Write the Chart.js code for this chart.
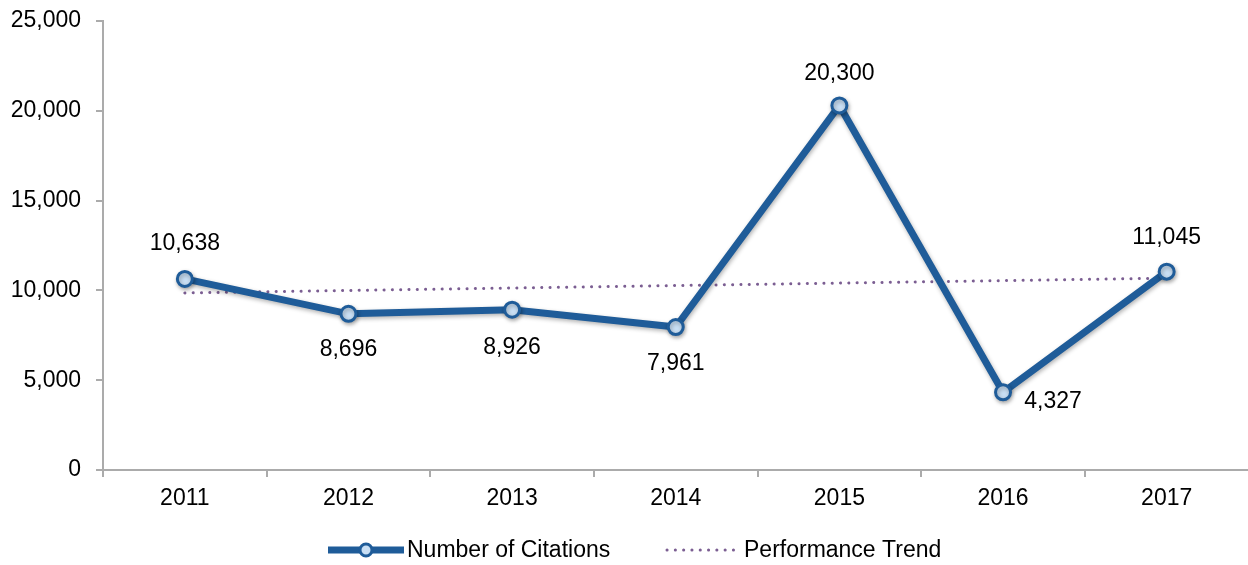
<!DOCTYPE html>
<html><head><meta charset="utf-8">
<script src="https://cdn.jsdelivr.net/npm/chart.js@4/dist/chart.umd.min.js"></script>
<style>html,body{margin:0;padding:0;background:#fff;overflow:hidden}#wrap{width:1248px;height:565px;position:relative;overflow:hidden}canvas{display:block}</style>
</head><body><div id="wrap"><canvas id="c" width="1259" height="565"></canvas></div>
<script>
const categories = ['2011','2012','2013','2014','2015','2016','2017'];
const citations = [10638, 8696, 8926, 7961, 20300, 4327, 11045];
const trend = [9857, 9995, 10133, 10270, 10408, 10546, 10684];
const seriesNames = ['Number of Citations', 'Performance Trend'];
const yTicks = [0, 5000, 10000, 15000, 20000, 25000];

const BLUE = '#1F5C99', FILL = '#C9DFF4', PURPLE = '#7B5E92', AXIS = '#ABABAB';
const FONT = '"Liberation Sans", Arial, sans-serif';
const FS = 23;
// label placement: [dx, dy] relative to point
const labelPos = [[0,-35],[0,36],[0,38],[0,37],[0,-32],[50,9],[0,-34]];

const fmt = v => v.toLocaleString('en-US');

const labelsPlugin = {
  id: 'labels',
  afterDatasetsDraw(chart) {
    const ctx = chart.ctx;
    const meta = chart.getDatasetMeta(0);
    ctx.save();
    ctx.font = FS + 'px ' + FONT;
    ctx.fillStyle = '#000';
    ctx.textAlign = 'center';
    ctx.textBaseline = 'middle';
    meta.data.forEach((p, i) => {
      const [dx, dy] = labelPos[i];
      ctx.fillText(fmt(citations[i]), p.x + dx, p.y + dy);
    });
    ctx.restore();
  }
};

const shadowPlugin = {
  id: 'shadow',
  beforeDatasetDraw(chart, args) {
    if (args.index === 0) {
      const ctx = chart.ctx;
      ctx.save();
      ctx.shadowColor = 'rgba(0,0,0,0.3)';
      ctx.shadowBlur = 4;
      ctx.shadowOffsetX = 1;
      ctx.shadowOffsetY = 2;
    }
  },
  afterDatasetDraw(chart, args) {
    if (args.index === 0) chart.ctx.restore();
  }
};

const legendPlugin = {
  id: 'customLegend',
  afterDraw(chart) {
    const ctx = chart.ctx;
    const y = 550;
    ctx.save();
    ctx.strokeStyle = BLUE; ctx.lineWidth = 7; ctx.lineCap = 'butt';
    ctx.beginPath(); ctx.moveTo(328, y); ctx.lineTo(404, y); ctx.stroke();
    ctx.beginPath(); ctx.arc(366, y, 6, 0, Math.PI * 2);
    ctx.fillStyle = FILL; ctx.fill(); ctx.lineWidth = 3; ctx.stroke();
    ctx.font = FS + 'px ' + FONT; ctx.fillStyle = '#000';
    ctx.textAlign = 'left'; ctx.textBaseline = 'middle';
    ctx.fillText(seriesNames[0], 407, y + 1);
    ctx.strokeStyle = PURPLE; ctx.lineWidth = 3; ctx.lineCap = 'round';
    ctx.setLineDash([0.1, 8.2]);
    ctx.beginPath(); ctx.moveTo(667, y); ctx.lineTo(736, y); ctx.stroke();
    ctx.setLineDash([]);
    ctx.fillText(seriesNames[1], 744, y + 1);
    ctx.restore();
  }
};

new Chart(document.getElementById('c'), {
  type: 'line',
  data: {
    labels: categories,
    datasets: [
      {
        label: seriesNames[0], data: citations,
        borderColor: BLUE, borderWidth: 7, tension: 0,
        pointRadius: 7.5, pointBorderWidth: 3, pointBackgroundColor: FILL, pointBorderColor: BLUE,
        pointHoverRadius: 7.5, order: 1
      },
      {
        label: seriesNames[1], data: trend,
        borderColor: PURPLE, borderWidth: 3, borderDash: [0.1, 8.2], borderCapStyle: 'round',
        pointRadius: 0, tension: 0, order: 2
      }
    ]
  },
  options: {
    responsive: false, animation: false,
    layout: { padding: { left: 0, right: 0, top: 21, bottom: 0 } },
    plugins: { legend: { display: false }, tooltip: { enabled: false } },
    scales: {
      x: {
        offset: true,
        grid: { offset: true, drawOnChartArea: false, color: AXIS, lineWidth: 2, tickLength: 7 },
        border: { color: AXIS, width: 2 },
        ticks: { color: '#000', font: { family: FONT, size: FS }, padding: 8, maxRotation: 0 },
        afterFit(s) { s.height = 95; s.paddingLeft = 0; s.paddingRight = 0; }
      },
      y: {
        min: 0, max: 25000,
        afterBuildTicks(s) { s.ticks = yTicks.map(v => ({ value: v })); },
        grid: { drawOnChartArea: false, color: AXIS, lineWidth: 2, tickLength: 7 },
        border: { color: AXIS, width: 2 },
        ticks: { color: '#000', font: { family: FONT, size: FS }, padding: 15, callback: v => fmt(v) },
        afterFit(s) { s.width = 103; s.paddingTop = 0; s.paddingBottom = 0; }
      }
    }
  },
  plugins: [shadowPlugin, labelsPlugin, legendPlugin]
});
</script></body></html>
